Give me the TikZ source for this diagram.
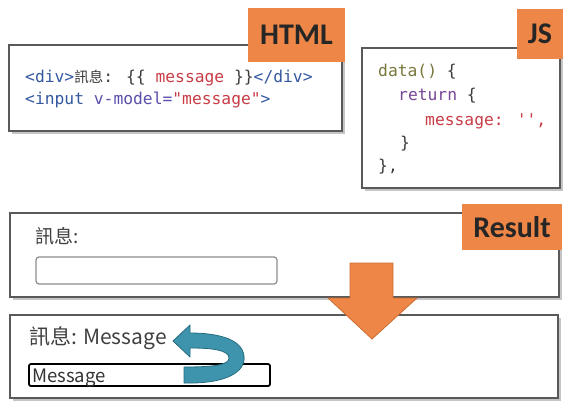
\documentclass[tikz,border=0pt]{standalone}
\usepackage{fontspec}
\usetikzlibrary{shadows}
\newfontfamily\codefont{DejaVu Sans Mono}
\newfontfamily\cjkfont{Noto Sans CJK TC}
\newfontfamily\labelfont{Carlito}
\definecolor{orangeF}{RGB}{237,134,70}
\definecolor{orangeD}{RGB}{205,110,50}
\definecolor{tealF}{RGB}{62,148,172}
\definecolor{tealD}{RGB}{38,108,128}
\definecolor{tagc}{RGB}{52,88,160}
\definecolor{msgc}{RGB}{200,60,70}
\definecolor{attrc}{RGB}{90,80,170}
\definecolor{fnc}{RGB}{120,118,60}
\definecolor{kwc}{RGB}{120,70,150}
\definecolor{darkc}{RGB}{60,60,60}
\tikzset{
  panel/.style={draw=black!65, line width=1.4pt, fill=white, inner sep=0pt,
    drop shadow={shadow xshift=2.5pt, shadow yshift=-3pt, opacity=.45}},
  tagbox/.style={fill=orangeF, inner sep=0pt, text=black!85,
    font=\labelfont\bfseries\fontsize{30}{31}\selectfont},
  code/.style={anchor=base west, inner sep=0pt, text=darkc,
    font=\codefont\fontsize{16.3}{18}\selectfont},
  ui/.style={anchor=base west, inner sep=0pt, text=black!75}
}
\begin{document}
\begin{tikzpicture}[x=1pt,y=-1pt]
\useasboundingbox (0,0) rectangle (570,401);
\fill[white] (0,0) rectangle (570,401);

% panels
\node[panel, minimum width=333pt, minimum height=86pt] (htmlbox) at (175.5,88) {};
\node[panel, minimum width=198pt, minimum height=140pt] (jsbox) at (461,118) {};
\node[panel, minimum width=549pt, minimum height=84pt] (resbox) at (284.5,255) {};
\node[panel, minimum width=548pt, minimum height=83pt] (outbox) at (284,356.5) {};

% HTML code
\node[code] (h1) at (25,83) {\textcolor{tagc}{<div>}{\cjkfont\fontsize{14.5}{18}\selectfont 訊息}: \{\{ \textcolor{msgc}{message} \}\}\textcolor{tagc}{</div>}};
\node[code] (h2) at (25,105) {\textcolor{tagc}{<input} \textcolor{attrc}{v-model=}\textcolor{msgc}{"message"}\textcolor{tagc}{>}};

% JS code
\node[code] (j1) at (378,77) {\textcolor{fnc}{data()} \{};
\node[code] (j2) at (398,101) {\textcolor{kwc}{return} \{};
\node[code] (j3) at (425,125) {\textcolor{msgc}{message: \textquotesingle\textquotesingle,}};
\node[code] (j4) at (400,148) {\}};
\node[code] (j5) at (378,171) {\},};

% result panel content
\node[ui, font=\cjkfont\fontsize{19}{20}\selectfont] (r1) at (35,243) {訊息:};
\node[draw=black!45, line width=1.2pt, rounded corners=3pt, minimum width=241pt, minimum height=27pt, inner sep=0pt] (rin) at (156.5,270.5) {};

% output panel content
\node[ui, font=\cjkfont\fontsize{21}{22}\selectfont] (o1) at (29,344) {訊息: Message};
\node[draw=black, line width=1.8pt, rounded corners=2pt, minimum width=241pt, minimum height=22pt, inner sep=0pt] (oin) at (149.5,375) {};
\node[ui, font=\cjkfont\fontsize{18.5}{19}\selectfont, text=black!80] (o2) at (32,382) {Message};

% labels
\node[tagbox, minimum width=97pt, minimum height=54pt] (lhtml) at (296.5,35) {HTML};
\node[tagbox, minimum width=46pt, minimum height=50pt] (ljs) at (540,34) {JS};
\node[tagbox, minimum width=100pt, minimum height=46pt] (lres) at (512,227) {Result};

% orange arrow
\draw[fill=orangeF, draw=orangeD, line width=0.8pt, line join=miter]
  (350,263) -- (393,263) -- (393,298) -- (417,298) -- (372,339) -- (328,298) -- (350,298) -- cycle;

% teal curved arrow
\draw[fill=tealF, draw=tealD, line width=0.8pt, line join=round]
  (184,383) .. controls (226,384) and (246,372) .. (244,356)
  .. controls (242,338) and (215,333) .. (190,333)
  -- (190,325) -- (173,341) -- (190,357) -- (190,348)
  .. controls (212,348) and (229,350) .. (229,358)
  .. controls (229,365) and (214,367) .. (184,367) -- cycle;
\end{tikzpicture}
\end{document}
